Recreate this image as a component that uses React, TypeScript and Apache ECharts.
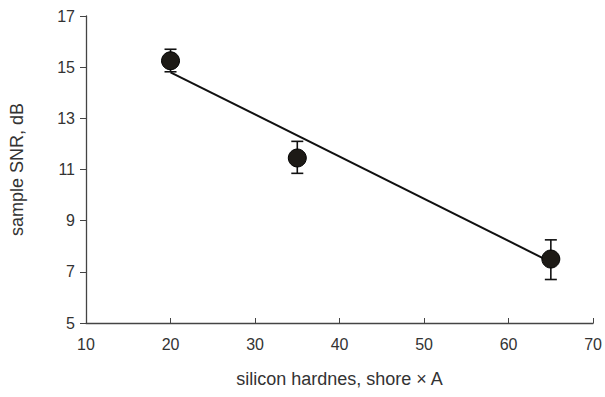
import React, { useEffect, useRef } from "react";
import * as echarts from "echarts";

const hardness = [20, 35, 65];
const snr = [15.25, 11.45, 7.5];
const errLow = [14.82, 10.85, 6.7];
const errHigh = [15.7, 12.1, 8.25];
const trendX = [20, 65];
const trendY = [14.8, 7.38];

export default function App() {
  const ref = useRef<HTMLDivElement>(null);
  useEffect(() => {
    if (!ref.current) return;
    const chart = echarts.init(ref.current, undefined, { renderer: "svg" });
    const font = "Liberation Sans, Arial, sans-serif";
    chart.setOption({
      animation: false,
      backgroundColor: "#ffffff",
      grid: { left: 86, right: 10, top: 16, bottom: 74 },
      xAxis: {
        type: "value",
        min: 10,
        max: 70,
        interval: 10,
        name: "silicon hardnes, shore × A",
        nameLocation: "middle",
        nameGap: 47,
        nameTextStyle: { fontFamily: font, fontSize: 18, color: "#333" },
        axisLine: { lineStyle: { color: "#444", width: 1.3 } },
        axisTick: { inside: true, length: 5, lineStyle: { color: "#444" } },
        axisLabel: { fontFamily: font, fontSize: 16, color: "#333", margin: 13 },
        splitLine: { show: false },
      },
      yAxis: {
        type: "value",
        min: 5,
        max: 17,
        interval: 2,
        name: "sample SNR, dB",
        nameLocation: "middle",
        nameGap: 60,
        nameTextStyle: { fontFamily: font, fontSize: 18, color: "#333" },
        axisLine: { show: true, lineStyle: { color: "#444", width: 1.3 } },
        axisTick: { show: true, inside: false, length: 6, lineStyle: { color: "#444" } },
        axisLabel: { fontFamily: font, fontSize: 16, color: "#333", margin: 11 },
        splitLine: { show: false },
      },
      series: [
        {
          type: "line",
          data: trendX.map((x, i) => [x, trendY[i]]),
          symbol: "none",
          lineStyle: { color: "#111", width: 2 },
          z: 2,
        },
        {
          type: "custom",
          data: hardness.map((x, i) => [x, errLow[i], errHigh[i]]),
          renderItem: (params: any, api: any) => {
            const x = api.value(0);
            const lo = api.coord([x, api.value(1)]);
            const hi = api.coord([x, api.value(2)]);
            const w = 6;
            const style = { stroke: "#111", lineWidth: 1.6 };
            return {
              type: "group",
              children: [
                { type: "line", shape: { x1: lo[0], y1: lo[1], x2: hi[0], y2: hi[1] }, style },
                { type: "line", shape: { x1: lo[0] - w, y1: lo[1], x2: lo[0] + w, y2: lo[1] }, style },
                { type: "line", shape: { x1: hi[0] - w, y1: hi[1], x2: hi[0] + w, y2: hi[1] }, style },
              ],
            };
          },
          z: 3,
        },
        {
          type: "scatter",
          data: hardness.map((x, i) => [x, snr[i]]),
          symbol: "circle",
          symbolSize: 18,
          itemStyle: { color: "#1d1a16", opacity: 1, borderColor: "#000", borderWidth: 1 },
          z: 4,
        },
      ],
    });
    return () => chart.dispose();
  }, []);
  return <div ref={ref} style={{ width: 605, height: 397, position: "absolute", left: 0, top: 0 }} />;
}
